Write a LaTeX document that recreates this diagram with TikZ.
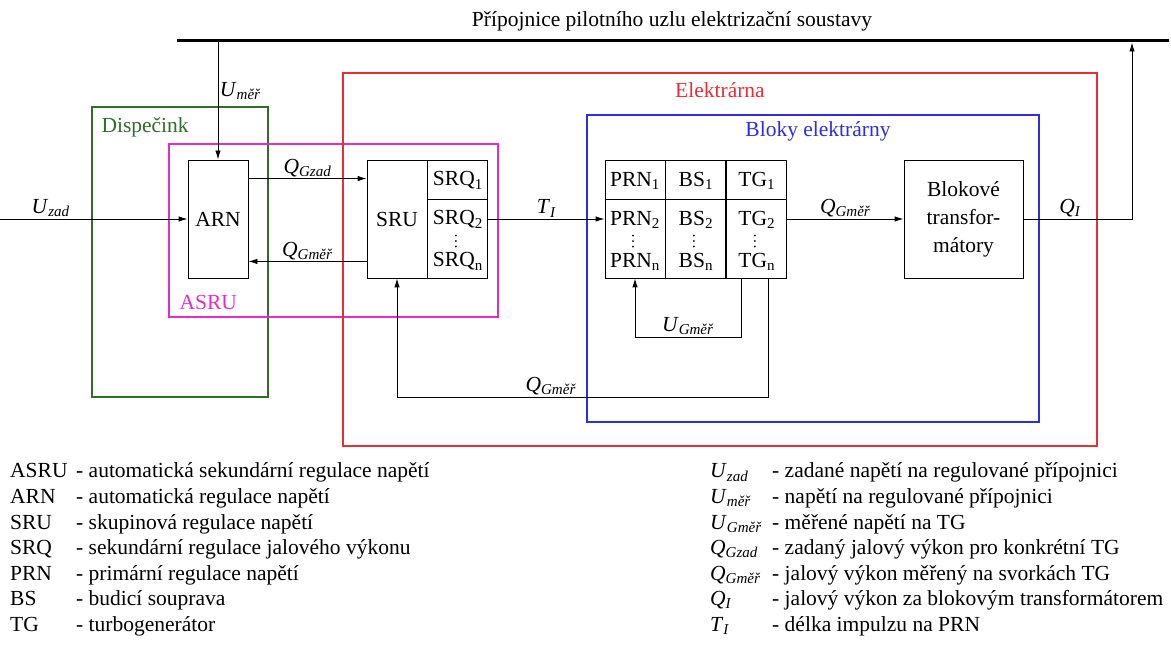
\documentclass[tikz,border=0pt]{standalone}
\usepackage{fontspec}
\setmainfont{Liberation Serif}
\usetikzlibrary{arrows.meta,positioning,calc}
\definecolor{cDisp}{RGB}{45,110,40}
\definecolor{cAsru}{RGB}{225,45,200}
\definecolor{cElek}{RGB}{232,45,55}
\definecolor{cBlok}{RGB}{45,45,225}
\newcommand{\vel}[2]{\textit{#1}\textsubscript{\textit{#2}}}

\begin{document}
\begin{tikzpicture}[
  x=1pt,y=-1pt,
  every node/.style={font=\fontsize{21.5}{28}\selectfont},
  blk/.style={draw,line width=0.9pt,inner sep=0pt,minimum width=60pt,minimum height=118pt},
  cell/.style={inner sep=0pt},
  frm/.style={line width=1.1pt},
  sig/.style={-{Latex[length=9pt,width=5.5pt]},line width=0.9pt},
  wire/.style={line width=0.9pt},
  lab/.style={inner sep=1.5pt},
  leg/.style={anchor=base west,inner sep=0pt},
]
\useasboundingbox (0,0) rectangle (1171,652);
% busbar of the pilot node
\coordinate (busl) at (177,41);
\coordinate (busr) at (1169,41);
\draw[line width=3pt] (busl) -- (busr);
\node (tit) at (672,21) {Přípojnice pilotního uzlu elektrizační soustavy};
% coloured frames
\draw[frm,cDisp] (92,107) rectangle (268,397);
\draw[frm,cAsru] (169,144) rectangle (498,317);
\draw[frm,cElek] (343,73) rectangle (1097,446);
\draw[frm,cBlok] (587,115) rectangle (1039,422);
\node[anchor=west,text=cDisp] (disp) at (98,127) {Dispečink};
\node[anchor=west,text=cAsru] (asru) at (176,302) {ASRU};
\node[text=cElek] (elek) at (720,90) {Elektrárna};
\node[text=cBlok] (bloky) at (818,131) {Bloky elektrárny};
% ARN and SRU/SRQ
\node[blk] (arn) at (218,219) {ARN};
\node[blk] (sru) at (397,219) {SRU};
\node[blk,right=0pt of sru] (srq) {};
\draw[wire] ($(srq.north west)+(0,40)$) -- ($(srq.north east)+(0,40)$);
\node[cell] (srq-1) at ($(srq.north)+(0,21)$) {SRQ\textsubscript{1}};
\node[cell] (srq-2) at ($(srq.north)+(0,60)$) {SRQ\textsubscript{2}};
\node[cell] (srq-n) at ($(srq.north)+(0,102)$) {SRQ\textsubscript{n}};
\foreach \k in {0,1,2}
  \fill ($(srq.north)+(-2,76+5.5*\k)$) circle (1pt);
% PRN / BS / TG table
\node[blk] (prn) at (635,219) {};
\node[blk,right=0pt of prn] (bs) {};
\node[blk,right=0pt of bs] (tg) {};
\draw[wire] ($(prn.north west)+(0,40)$) -- ($(tg.north east)+(0,40)$);
\foreach \col/\txt in {prn/PRN,bs/BS,tg/TG}{
  \node[cell] (\col-1) at ($(\col.north)+(0,21)$) {\txt\textsubscript{1}};
  \node[cell] (\col-2) at ($(\col.north)+(0,60)$) {\txt\textsubscript{2}};
  \node[cell] (\col-n) at ($(\col.north)+(0,102)$) {\txt\textsubscript{n}};
  \foreach \k in {0,1,2}
    \fill ($(\col.north)+(-2,76+5.5*\k)$) circle (1pt);
}
% block transformers
\node[blk,minimum width=119pt,align=center] (blok) at (963.5,219) {Blokové\\transfor-\\mátory};
% signals
\coordinate (uzad) at (0,219);
\draw[sig] (uzad) -- node[lab,above,pos=0.27] (luzad) {\vel{U}{zad}} (arn.west);
\draw[sig] (arn.north |- busl) -- node[lab,right,pos=0.42] (lumer) {\vel{U}{měř}} (arn.north);
\draw[sig] ($(arn.north east)+(0,19)$) -- node[lab,above] (lqgzad) {\vel{Q}{Gzad}} ($(sru.north west)+(0,19)$);
\draw[sig] ($(sru.south west)+(0,-17)$) -- node[lab,above] (lqgmer) {\vel{Q}{Gměř}} ($(arn.south east)+(0,-17)$);
\draw[sig] (srq.east) -- node[lab,above] (lti) {\vel{T}{I}} (prn.west);
\draw[sig] (tg.east) -- node[lab,above] (lqgmer2) {\vel{Q}{Gměř}} (blok.west);
\coordinate (qi) at (1132,219);
\draw[sig,shorten >=1.5pt] (blok.east) -- node[lab,above,pos=0.43] (lqi) {\vel{Q}{I}} (qi) -- (qi |- busr);
% feedback loops
\coordinate (ug) at (741,337);
\draw[sig] (tg.south -| ug) -- (ug) -- node[lab,above] (lugmer) {\vel{U}{Gměř}} (ug -| prn.south) -- (prn.south);
\coordinate (qg) at (768,397);
\draw[sig] (tg.south -| qg) -- (qg) -- node[lab,above,pos=0.585] (lqgmer3) {\vel{Q}{Gměř}} (qg -| sru.south) -- (sru.south);
% legend
\foreach \ab/\ds [count=\i from 0] in {ASRU/automatická sekundární regulace napětí,
    ARN/automatická regulace napětí, SRU/skupinová regulace napětí,
    SRQ/sekundární regulace jalového výkonu, PRN/primární regulace napětí,
    BS/budicí souprava, TG/turbogenerátor}
  \node[leg] (la\i) at (10,{478+25.5*\i}) {\makebox[66pt][l]{\ab}- \ds};
\foreach \sy/\ds [count=\i from 0] in {{\vel{U}{zad}}/zadané napětí na regulované přípojnici,
    {\vel{U}{měř}}/napětí na regulované přípojnici,
    {\vel{U}{Gměř}}/měřené napětí na TG,
    {\vel{Q}{Gzad}}/zadaný jalový výkon pro konkrétní TG,
    {\vel{Q}{Gměř}}/jalový výkon měřený na svorkách TG,
    {\vel{Q}{I}}/jalový výkon za blokovým transformátorem,
    {\vel{T}{I}}/délka impulzu na PRN}
  \node[leg] (lb\i) at (710,{478+25.5*\i}) {\makebox[62pt][l]{\sy}- \ds};
\end{tikzpicture}
\end{document}
